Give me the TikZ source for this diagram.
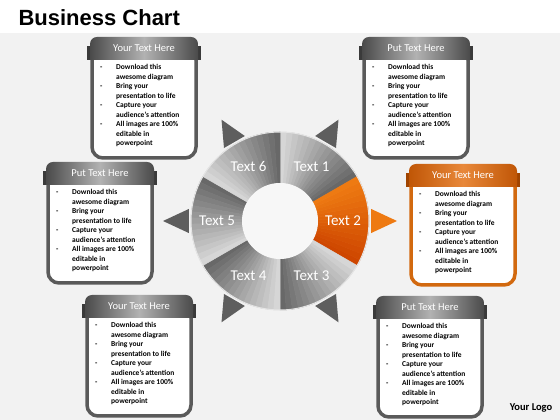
\documentclass[tikz,border=0pt]{standalone}
\usepackage{fontspec}
\setmainfont{Carlito}
\newfontfamily\titlefont{Liberation Sans}
\usepackage{xcolor}
\definecolor{bggray}{HTML}{F2F2F2}
\definecolor{holegray}{HTML}{F7F7F7}
\definecolor{ringlight}{HTML}{D6D6D6}
\definecolor{ringdark}{HTML}{686868}
\definecolor{orangelight}{HTML}{EE7A12}
\definecolor{orangedark}{HTML}{CE4600}
\definecolor{trigray}{HTML}{5E5E5E}
\definecolor{framegray}{HTML}{5A5A5A}
\definecolor{headdark}{HTML}{4A4A4A}
\definecolor{headlight}{HTML}{B2B2B2}
\definecolor{eargray}{HTML}{3A3A3A}
\definecolor{frameorange}{HTML}{D2690F}
\definecolor{headodark}{HTML}{C05606}
\definecolor{headolight}{HTML}{E8883A}
\definecolor{earorange}{HTML}{A04400}
\usepackage{tikz}

\newcommand{\bulletlist}{%
  \begin{tabular}{@{}p{16pt}@{}l@{}}
    - & Download this\\
      & awesome diagram\\
    - & Bring your\\
      & presentation to life\\
    - & Capture your\\
      & audience's attention\\
    - & All images are 100\%\\
      & editable in\\
      & powerpoint
  \end{tabular}}

\tikzset{
  titletxt/.style={font=\titlefont\bfseries\fontsize{22}{24}\selectfont, text=black},
  seglbl/.style={font=\fontsize{15}{17}\selectfont, text=white},
  headtxt/.style={font=\fontsize{10.5}{12}\selectfont, text=white},
  bultxt/.style={font=\bfseries\fontsize{7.5}{9.5}\selectfont, inner sep=0pt},
  logotxt/.style={font=\bfseries\fontsize{10.5}{12}\selectfont}
}

\begin{document}
\begin{tikzpicture}[x=1pt,y=1pt]
  \useasboundingbox (0,0) rectangle (560,420);
  % Background
  \fill[bggray] (0,0) rectangle (560,387);
  \fill[white] (0,387) rectangle (560,420);
  \node[titletxt, anchor=west] (title) at (15,402) {Business Chart};
  \node[logotxt] (logo) at (531,12) {Your Logo};

  % Wheel: each segment dark at its clockwise edge, light at the other
  \begin{scope}[shift={(280,199)}]
    \foreach \k/\a/\lbl/\lc/\dc/\tc in {1/60/Text 1/ringlight/ringdark/trigray,
        2/0/Text 2/orangelight/orangedark/orangelight,
        3/-60/Text 3/ringlight/ringdark/trigray,
        4/-120/Text 4/ringlight/ringdark/trigray,
        5/180/Text 5/ringlight/ringdark/trigray,
        6/120/Text 6/ringlight/ringdark/trigray} {
      \foreach \j in {0,...,14} {
        \pgfmathsetmacro{\st}{\a-30+4*\j}
        \pgfmathsetmacro{\en}{\st+4}
        \pgfmathsetmacro{\p}{100*\j/14}
        \filldraw[fill=\lc!\p!\dc, draw=\lc!\p!\dc, line width=0.5, line join=round]
          (\st:89) arc[start angle=\st, end angle=\en, radius=89]
          -- (\en:38) arc[start angle=\en, end angle=\st, radius=38] -- cycle;
      }
      \pgfmathsetmacro{\tl}{\a-7.5}
      \pgfmathsetmacro{\tr}{\a+7.5}
      \fill[\tc] (\a:117) -- (\tl:92) -- (\tr:92) -- cycle;
      \node[seglbl] (seg\k) at (\a:63) {\lbl};
    }
    \draw[white!80!gray, line width=1] (0,0) circle (89);
    \fill[holegray] (0,0) circle (38);
  \end{scope}

  % Text boxes
  \foreach \nm/\cx/\ty/\ttl/\hd/\hl/\fc/\ec in {tl/144/383/Your Text Here/headdark/headlight/framegray/eargray,
      tr/416/383/Put Text Here/headdark/headlight/framegray/eargray,
      l/100/258/Put Text Here/headdark/headlight/framegray/eargray,
      r/463/256/Your Text Here/headodark/headolight/frameorange/earorange,
      bl/139/125/Your Text Here/headdark/headlight/framegray/eargray,
      br/430/124/Put Text Here/headdark/headlight/framegray/eargray} {
    \draw[line width=3.5, draw=\fc, fill=white, rounded corners=11]
      (\cx-52,\ty-12) rectangle (\cx+52,\ty-121);
    \fill[\ec] (\cx-57,\ty-9) rectangle (\cx+57,\ty-23);
    \shade[left color=\hd, right color=\hd, middle color=\hl, rounded corners=7]
      (\cx-54,\ty-22) rectangle (\cx+54,\ty);
    \shade[left color=\hd, right color=\hd, middle color=\hl]
      (\cx-54,\ty-23) rectangle (\cx+54,\ty-10);
    \node[headtxt] (\nm-head) at (\cx,\ty-11) {\ttl};
    \node[bultxt, anchor=north west] (\nm-list) at (\cx-44,\ty-26) {\bulletlist};
  }
\end{tikzpicture}
\end{document}
